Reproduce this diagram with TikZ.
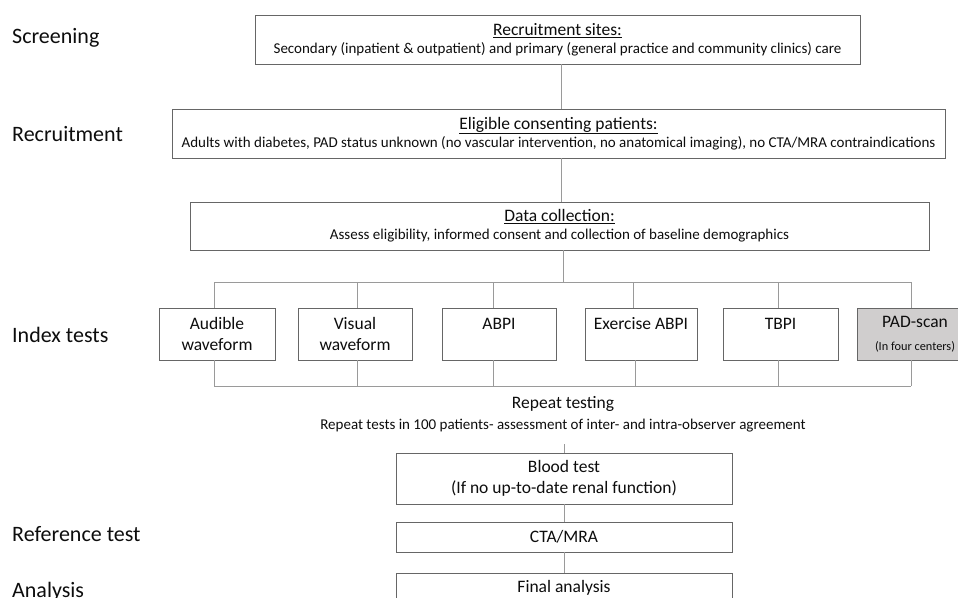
\documentclass[tikz,border=0pt]{standalone}
\usepackage{fontspec}
\setmainfont{Carlito}
\definecolor{boxline}{HTML}{666666}
\definecolor{conline}{HTML}{9A9A9A}
\definecolor{txt}{HTML}{0D0D0D}
\definecolor{padfill}{HTML}{D0CECE}
\newcommand\fLbl{\fontsize{22}{26}\selectfont}
\newcommand\fTitle{\fontsize{17.5}{18}\selectfont}
\newcommand\fSub{\fontsize{15}{16}\selectfont}
\newcommand\fIdx{\fontsize{17.5}{21}\selectfont}
\newcommand\fSmall{\fontsize{12.3}{14}\selectfont}
\begin{document}
\begin{tikzpicture}[x=1pt,y=-1pt,
  box/.style={draw=boxline, line width=0.9pt, fill=white, inner sep=0pt, align=center, text=txt, font=\fIdx},
  conn/.style={draw=conline, line width=0.9pt},
  lbl/.style={anchor=west, inner sep=0pt, text=txt, font=\fLbl}]
\clip (0,0) rectangle (958,597);
\useasboundingbox (0,0) rectangle (958,597);

% stage labels
\node[lbl] (lscr) at (12,38) {Screening};
\node[lbl] (lrec) at (12,134) {Recruitment};
\node[lbl] (lidx) at (12,335) {Index tests};
\node[lbl] (lref) at (12,534) {Reference test};
\node[lbl] (lana) at (12,592) {Analysis};

% top boxes
\node[box, font=\fTitle, minimum width=605pt, minimum height=49pt] (sites) at (557.5,39.5)
  {\underline{Recruitment sites:}\\[0pt]\fSub Secondary (inpatient \& outpatient) and primary (general practice and community clinics) care};
\node[box, font=\fTitle, minimum width=773pt, minimum height=49pt] (elig) at (558.5,133.5)
  {\underline{Eligible consenting patients:}\\[0pt]\fSub Adults with diabetes, PAD status unknown (no vascular intervention, no anatomical imaging), no CTA/MRA contraindications};
\node[box, font=\fTitle, minimum width=739pt, minimum height=48pt] (data) at (559.5,226)
  {\underline{Data collection:}\\[0pt]\fSub Assess eligibility, informed consent and collection of baseline demographics};

\draw[conn] ([xshift=3.5pt]sites.south) -- ([xshift=2.5pt]elig.north);
\draw[conn] ([xshift=2.5pt]elig.south) -- ([xshift=1.5pt]data.north);

% upper bus
\coordinate (busL) at (214,282);
\coordinate (busR) at (911,282);
\draw[conn] (busL) -- (busR);
\draw[conn] ([xshift=3.5pt]data.south) |- (busR);

% index test boxes
\node[box, minimum width=116pt, minimum height=52pt] (aud) at (217,334) {Audible\\waveform};
\node[box, minimum width=114pt, minimum height=52pt] (vis) at (355,334) {Visual\\waveform};
\node[box, minimum width=114pt, minimum height=52pt] (abpi) at (499,334) {ABPI\\\mbox{}};
\node[box, minimum width=112pt, minimum height=52pt] (exabpi) at (641,334) {Exercise ABPI\\\mbox{}};
\node[box, minimum width=115pt, minimum height=52pt] (tbpi) at (780.5,334) {TBPI\\\mbox{}};
\node[box, fill=padfill, minimum width=116pt, minimum height=52pt] (pad) at (915,334) {PAD-scan\\[2pt]\fSmall (In four centers)};

\draw[conn] ([xshift=-3pt]aud.north) |- (busL);
\draw[conn] ([xshift=2pt]vis.north) |- (busL);
\draw[conn] ([xshift=-6pt]abpi.north) |- (busL);
\draw[conn] ([xshift=-8pt]exabpi.north) |- (busR);
\draw[conn] ([xshift=-2.5pt]tbpi.north) |- (busR);
\draw[conn] ([xshift=-4pt]pad.north) |- (busR);

% lower bus
\coordinate (lbL) at (214,386);
\coordinate (lbR) at (911,386);
\draw[conn] (lbL) -- (lbR);
\draw[conn] ([xshift=-3pt]aud.south) |- (lbL);
\draw[conn] ([xshift=2pt]vis.south) |- (lbL);
\draw[conn] ([xshift=-6pt]abpi.south) |- (lbL);
\draw[conn] ([xshift=-6pt]exabpi.south) |- (lbR);
\draw[conn] ([xshift=-2.5pt]tbpi.south) |- (lbR);
\draw[conn] ([xshift=-4pt]pad.south) |- (lbR);

% repeat testing
\node[inner sep=0pt, align=center, text=txt, font=\fIdx] (rep) at (563,414)
  {Repeat testing\\[0pt]\fSub Repeat tests in 100 patients- assessment of inter- and intra-observer agreement};

% lower chain
\node[box, minimum width=336pt, minimum height=51pt] (blood) at (564,478.5)
  {Blood test\\(If no up-to-date renal function)};
\node[box, minimum width=336pt, minimum height=30pt] (cta) at (564,537) {CTA/MRA};
\node[box, minimum width=336pt, minimum height=30pt] (final) at (564,588) {Final analysis};

\coordinate (repEnd) at (564,444);
\draw[conn] (repEnd) -- (blood.north);
\draw[conn] (blood.south) -- (cta.north);
\draw[conn] (cta.south) -- (final.north);
\end{tikzpicture}
\end{document}
